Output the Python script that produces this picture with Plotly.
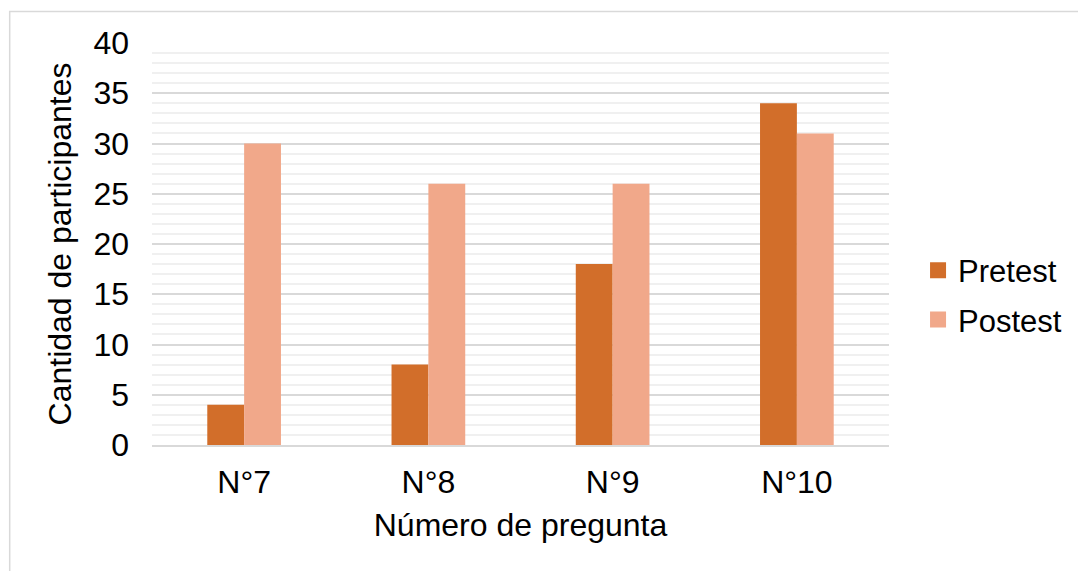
import plotly.graph_objects as go

categories = ["N°7", "N°8", "N°9", "N°10"]
pretest = [4, 8, 18, 34]
postest = [30, 26, 26, 31]
series_names = ["Pretest", "Postest"]
y_ticks = [0, 5, 10, 15, 20, 25, 30, 35, 40]

c_pre = "#D26E2A"
c_post = "#F1A88A"
FONT = "Liberation Sans, Arial, sans-serif"

fig = go.Figure()
fig.add_trace(go.Bar(name=series_names[0], x=categories, y=pretest, marker_color=c_pre,
                     marker_line_width=0, showlegend=False, legendgroup="pre"))
fig.add_trace(go.Bar(name=series_names[1], x=categories, y=postest, marker_color=c_post,
                     marker_line_width=0, showlegend=False, legendgroup="post"))
# legend entries (larger square symbols)
fig.add_trace(go.Scatter(name=series_names[0], x=[None], y=[None], mode="markers",
                         marker=dict(symbol="square", size=16, color=c_pre),
                         legendgroup="pre"))
fig.add_trace(go.Scatter(name=series_names[1], x=[None], y=[None], mode="markers",
                         marker=dict(symbol="square", size=16, color=c_post),
                         legendgroup="post"))

fig.update_layout(
    width=1078, height=571,
    margin=dict(l=152, r=188, t=43, b=126),
    paper_bgcolor="white", plot_bgcolor="white",
    font=dict(family=FONT, size=32, color="black"),
    barmode="group", bargap=0.6, bargroupgap=0,
    legend=dict(x=1.038, y=0.373, xanchor="left", yanchor="middle",
                font=dict(size=31), tracegroupgap=6, traceorder="grouped",
                itemwidth=30),
    xaxis=dict(
        title=dict(text="Número de pregunta", font=dict(size=32), standoff=14),
        showline=True, linecolor="#d9d9d9", linewidth=2,
        showgrid=False, ticks="", tickfont=dict(size=32),
        ticklabelstandoff=8,
    ),
    yaxis=dict(
        title=dict(text="Cantidad de participantes", font=dict(size=32), standoff=12),
        range=[0, 40], tickvals=y_ticks, tickfont=dict(size=32),
        showgrid=True, gridcolor="#d9d9d9", gridwidth=1.5,
        minor=dict(dtick=1, showgrid=True, gridcolor="#f0f0f0", gridwidth=1.5),
        zeroline=False, showline=False, ticks="", ticklabelstandoff=22,
    ),
    shapes=[dict(type="rect", xref="paper", yref="paper",
                 x0=-0.1931, x1=1.30, y0=-0.40, y1=1.0784,
                 line=dict(color="#d9d9d9", width=1.5), fillcolor="rgba(0,0,0,0)",
                 layer="below")],
)

fig.write_html("out.html", config={"displayModeBar": False},
               post_script="document.body.style.margin='0';")
